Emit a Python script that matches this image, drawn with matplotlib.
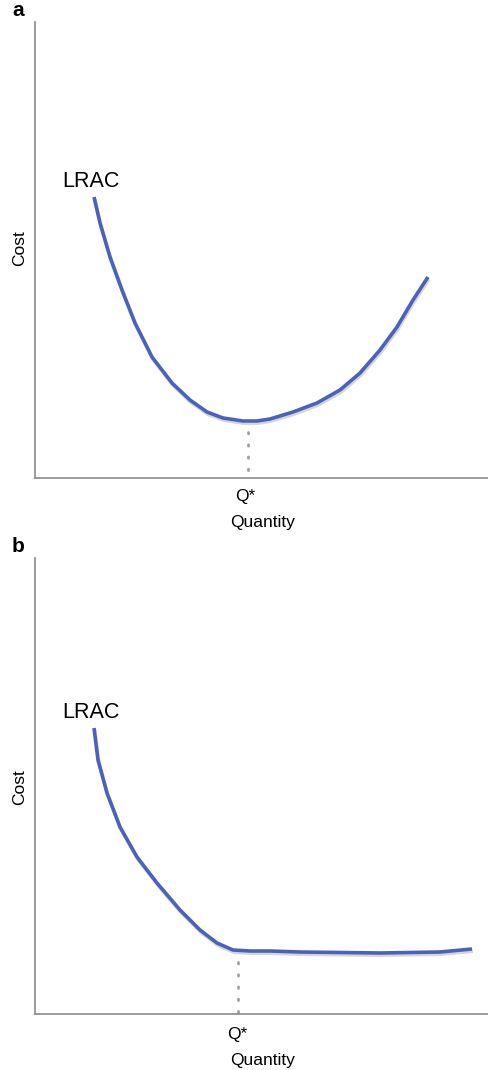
import numpy as np
import matplotlib.pyplot as plt
import matplotlib.patheffects as pe

plt.rcParams['font.family'] = ['Liberation Sans', 'DejaVu Sans']

# panel a: U-shaped LRAC (quantity, cost)
qty_a = [59, 65, 75, 87, 100, 117, 137, 155, 172, 188, 208, 222, 235, 258, 282, 305, 325, 345, 362, 378, 393]
cost_a = [281, 255, 221, 188, 155, 121, 95, 78, 66, 60, 57, 57, 59, 66, 75, 88, 105, 128, 151, 178, 201]
qstar_a = 213
# panel b: L-shaped LRAC
qty_b = [59, 63, 72, 85, 102, 122, 145, 165, 182, 198, 215, 235, 265, 345, 405, 437]
cost_b = [286, 254, 221, 187, 157, 131, 104, 84, 71, 64, 63, 63, 62, 61, 62, 65]
qstar_b = 203

W, H = 489, 1070
fig = plt.figure(figsize=(W / 100, H / 100), dpi=100)


def px(x, y):
    return x / W, 1 - y / H


def panel(top, bottom, qty, cost, qstar, dot_top, letter, lrac_y, cost_y, qs_x, qs_y, qn_y):
    left, right = 35, 489
    ax = fig.add_axes([left / W, 1 - bottom / H, (right - left) / W, (bottom - top) / H])
    ax.set_xlim(0, right - left)
    ax.set_ylim(0, bottom - top)
    for s in ['top', 'right']:
        ax.spines[s].set_visible(False)
    for s in ['left', 'bottom']:
        ax.spines[s].set_color('#8a8a8a')
        ax.spines[s].set_linewidth(1.2)
    ax.set_xticks([])
    ax.set_yticks([])
    ax.patch.set_alpha(0)
    # dotted guide from curve bottom down to the axis
    ax.plot([qstar, qstar], [dot_top, 0], color='#a0a0a0', lw=2,
            linestyle=(0, (0.5, 3.9)), dash_capstyle='round')
    ax.plot(qty, cost, color='#4a62bb', lw=2.6, solid_capstyle='butt', solid_joinstyle='round',
            path_effects=[pe.SimpleLineShadow(offset=(0.6, -1.6), shadow_color='0.55', alpha=0.35),
                          pe.Normal()])
    fig.text(*px(12, top - 6), letter, fontsize=15, fontweight='bold', va='baseline', ha='left')
    fig.text(*px(62, lrac_y), 'LRAC', fontsize=15.5, va='baseline', ha='left')
    fig.text(*px(20, cost_y), 'Cost', fontsize=12.5, rotation=90, va='center', ha='center')
    fig.text(*px(qs_x, qs_y), 'Q*', fontsize=12.5, va='center', ha='center')
    fig.text(*px(263, qn_y), 'Quantity', fontsize=12.5, va='center', ha='center')
    return ax


panel(22, 478, qty_a, cost_a, qstar_a, 46, 'a', 187, 248, 245, 497, 523)
panel(558, 1014, qty_b, cost_b, qstar_b, 52, 'b', 718, 787, 237, 1034, 1061)

fig.savefig('out.png', dpi=100, facecolor='white')
